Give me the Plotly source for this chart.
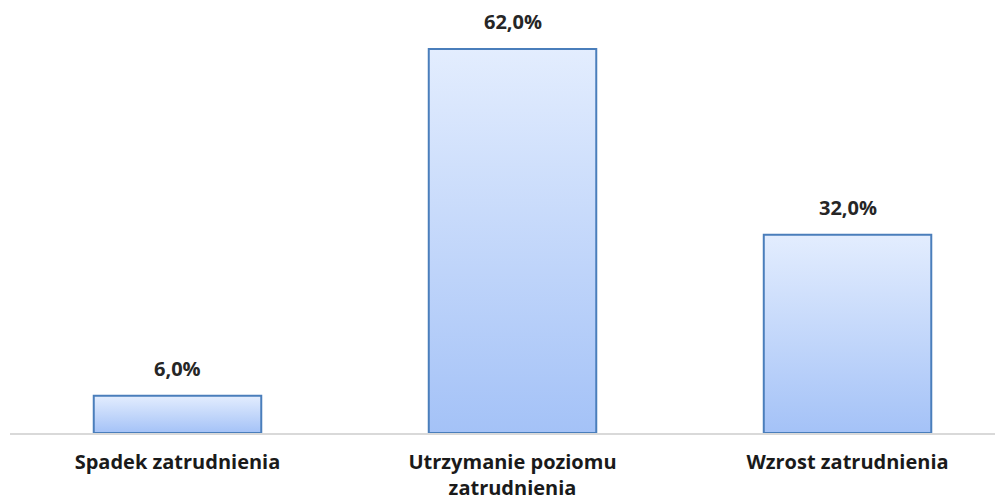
import plotly.graph_objects as go

categories = ["Spadek zatrudnienia", "Utrzymanie poziomu<br>zatrudnienia", "Wzrost zatrudnienia"]
values = [6.0, 62.0, 32.0]
value_labels = ["6,0%", "62,0%", "32,0%"]

positions = list(range(len(categories)))
half_width = 0.25
FONT = "Open Sans"

fig = go.Figure()
for x, v in zip(positions, values):
    fig.add_trace(go.Scatter(
        x=[x - half_width, x - half_width, x + half_width, x + half_width, x - half_width],
        y=[0, v, v, 0, 0],
        mode="lines",
        fill="toself",
        fillgradient=dict(type="vertical", colorscale=[[0, "#a4c2f7"], [1, "#e3edfe"]]),
        line=dict(color="#4a7ebb", width=2),
        hoverinfo="skip",
        showlegend=False,
    ))

for x, v, t in zip(positions, values, value_labels):
    fig.add_annotation(
        x=x, y=v, text=t, showarrow=False, yanchor="bottom", yshift=12,
        font=dict(family=FONT, size=20, color="#262626", weight="bold"),
    )

fig.update_layout(
    width=1003, height=503,
    margin=dict(l=2, r=0, t=0, b=78),
    plot_bgcolor="white", paper_bgcolor="white",
    xaxis=dict(
        range=[-0.5, 2.488], tickvals=positions, ticktext=categories,
        showgrid=False, zeroline=False, showline=True, linecolor="#d9d9d9", linewidth=2,
        tickfont=dict(family=FONT, size=20, color="#1a1a1a", weight="bold"),
        ticks="", ticklabelstandoff=10, fixedrange=True,
    ),
    yaxis=dict(range=[0, 68.6], showgrid=False, zeroline=False, showticklabels=False,
               showline=False, fixedrange=True),
)

fig.write_html("out.html")
